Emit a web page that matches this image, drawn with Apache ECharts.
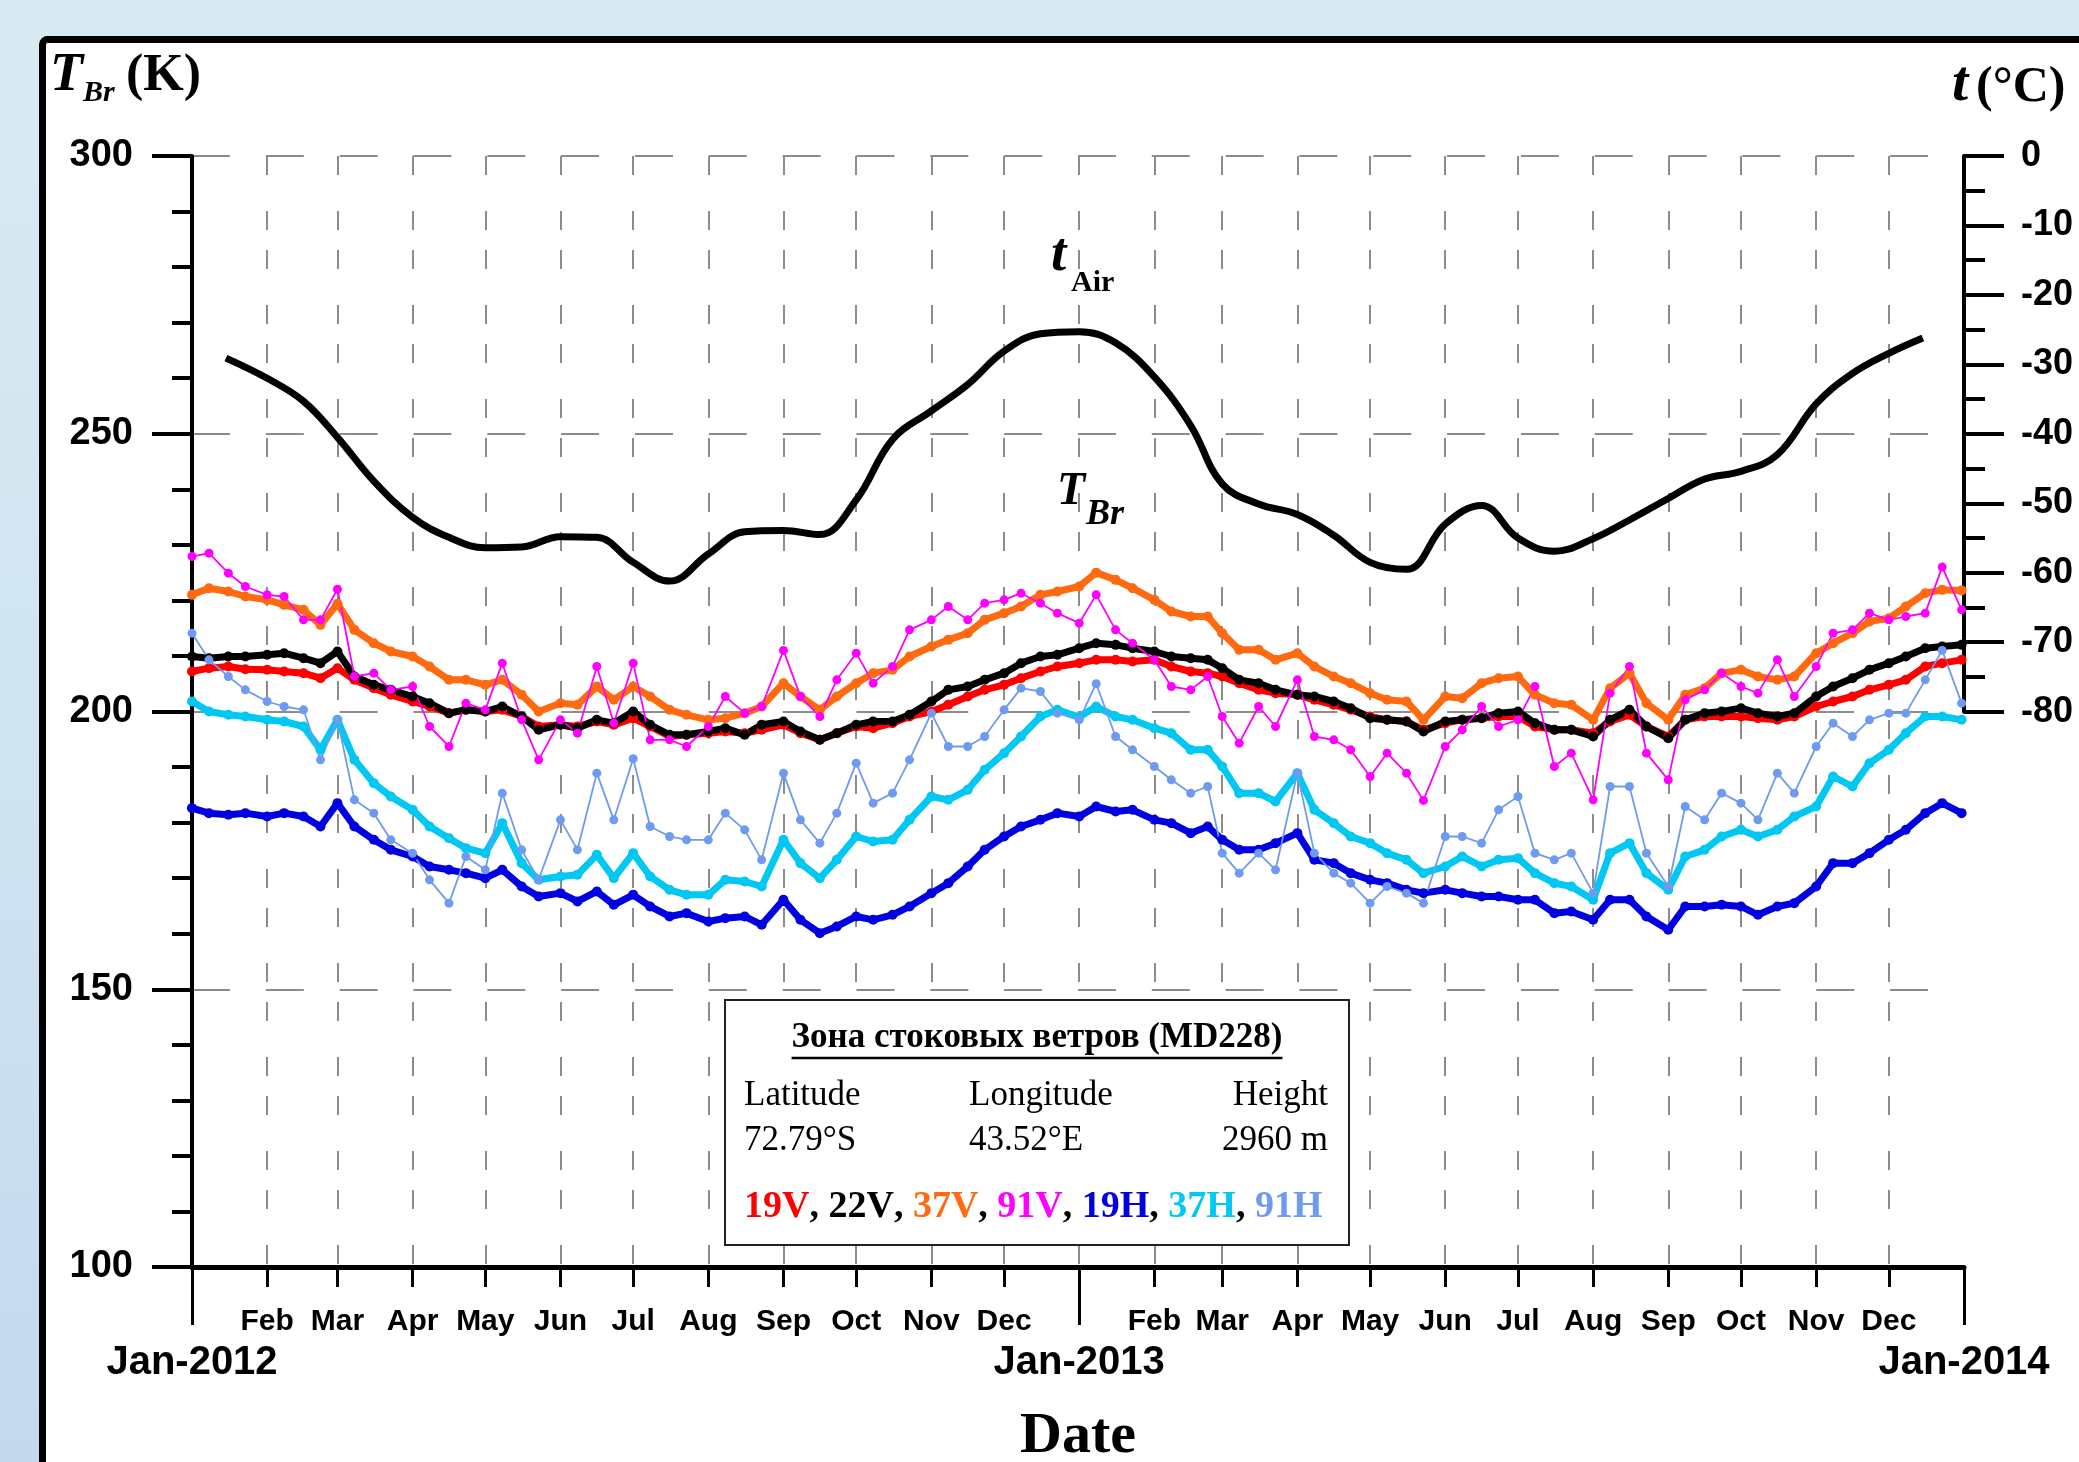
<!DOCTYPE html>
<html>
<head>
<meta charset="utf-8">
<script src="https://cdn.jsdelivr.net/npm/echarts@6/dist/echarts.min.js"></script>
<style>
html, body { margin: 0; padding: 0; width: 2079px; height: 1462px; overflow: hidden;
  background: linear-gradient(180deg, #d9ebf2 0%, #d1e5f1 45%, #c4d9ee 100%); }
#chart { width: 2079px; height: 1462px; }
</style>
</head>
<body>
<div id="chart"></div>
<script>
// ---------------- data ----------------
const monthLabels = ['Jan', 'Feb', 'Mar', 'Apr', 'May', 'Jun', 'Jul', 'Aug', 'Sep', 'Oct', 'Nov', 'Dec'];
const yearLabels = ['Jan-2012', 'Jan-2013', 'Jan-2014'];
const years = [2012, 2013];
const sampleDays = [1, 8, 16, 23];          // days of every month at which the curves were read
const lastSampleDate = '2013-12-31';

const seriesNames = ['19V', '22V', '37V', '91V', '19H', '37H', '91H'];
const seriesColors = ['#ff0000', '#000000', '#ff6a10', '#ff00ff', '#0000e0', '#00c8f2', '#6e9bef'];

const tb19V = [
  207.2, 207.8, 208.1, 207.6, 207.5, 207.2, 206.9, 206.0, 207.8, 205.7, 204.2, 203.0, 201.8, 200.9, 199.7, 200.3, 200.0, 200.3, 199.1, 197.3, 197.6, 197.3, 198.2, 197.6, 198.8,
  197.3, 195.5, 195.8, 196.1, 196.4, 196.1, 196.7, 197.6, 196.1, 194.9, 196.1, 197.3, 197.0, 197.9, 199.1, 200.0, 201.2, 202.7, 203.9, 204.8, 206.0, 207.2, 208.1, 208.7,
  209.3, 209.3, 209.0, 209.3, 208.1, 207.2, 206.9, 206.3, 205.1, 203.9, 203.3, 203.0, 202.1, 201.2, 200.3, 199.1, 198.5, 198.2, 196.7, 197.9, 198.5, 198.8, 199.1, 199.1,
  197.3, 196.7, 196.7, 196.1, 198.2, 199.4, 197.3, 195.5, 198.5, 199.1, 199.1, 199.1, 198.8, 198.5, 199.1, 200.9, 201.8, 202.7, 203.9, 204.8, 205.7, 208.1, 208.7, 209.3
];
const tb22V = [
  209.9, 209.6, 209.9, 209.9, 210.2, 210.5, 209.6, 208.7, 210.8, 206.3, 204.8, 203.9, 202.7, 201.5, 199.7, 200.3, 200.0, 200.9, 199.1, 196.7, 197.6, 197.0, 198.5, 197.9, 200.0,
  197.6, 195.8, 195.8, 196.4, 197.0, 195.8, 197.6, 198.2, 196.4, 194.9, 196.1, 197.6, 198.2, 198.2, 199.4, 201.8, 203.9, 204.5, 205.7, 206.9, 208.7, 209.9, 210.2, 211.4,
  212.3, 212.0, 211.4, 210.8, 209.9, 209.6, 209.3, 207.8, 205.7, 205.1, 203.9, 203.0, 202.7, 201.8, 200.6, 198.8, 198.5, 198.2, 196.4, 198.2, 198.5, 198.8, 199.7, 200.0,
  197.9, 196.7, 196.7, 195.5, 198.5, 200.3, 197.3, 195.2, 198.5, 199.7, 200.0, 200.6, 199.7, 199.1, 199.7, 202.7, 204.5, 206.0, 207.5, 208.7, 209.9, 211.4, 211.7, 212.0
];
const tb37V = [
  221.0, 222.2, 221.6, 220.7, 220.1, 219.2, 218.3, 215.6, 219.4, 214.7, 212.3, 210.8, 209.9, 208.1, 205.7, 205.7, 204.8, 205.7, 203.0, 200.0, 201.5, 201.2, 204.5, 202.1, 204.5,
  202.7, 200.3, 199.4, 198.5, 198.8, 199.7, 200.9, 205.1, 202.7, 200.3, 202.7, 205.1, 206.9, 207.5, 209.9, 211.7, 212.9, 214.1, 216.5, 217.7, 218.9, 221.0, 221.6, 222.5,
  225.0, 223.7, 222.2, 220.1, 218.0, 217.1, 217.1, 214.1, 211.1, 211.1, 209.3, 210.5, 208.1, 206.3, 205.1, 203.3, 202.1, 201.8, 198.5, 202.7, 202.4, 205.1, 206.0, 206.3,
  203.0, 201.5, 201.2, 198.5, 204.2, 206.9, 201.5, 198.5, 203.0, 204.2, 206.9, 207.5, 206.3, 205.7, 206.3, 210.5, 212.3, 214.1, 216.2, 216.8, 218.9, 221.3, 221.9, 221.8
];
const tb91V = [
  227.9, 228.5, 224.9, 222.5, 221.0, 220.7, 216.5, 216.5, 222.0, 206.3, 206.9, 203.9, 204.5, 197.3, 193.7, 201.5, 200.3, 208.7, 198.5, 191.3, 198.5, 196.1, 208.1, 197.9, 208.7,
  194.9, 194.9, 193.7, 197.3, 202.7, 199.7, 200.9, 211.0, 202.7, 199.1, 205.7, 210.5, 205.1, 208.1, 214.7, 216.5, 218.9, 216.5, 219.5, 220.1, 221.3, 219.5, 217.7, 215.9,
  221.0, 214.7, 212.3, 209.3, 204.5, 203.9, 206.3, 199.1, 194.3, 200.9, 197.3, 205.7, 195.5, 194.9, 193.1, 188.3, 192.5, 188.9, 184.0, 193.7, 196.7, 200.9, 197.3, 198.5,
  204.5, 190.1, 192.5, 184.1, 203.3, 208.1, 192.5, 187.7, 202.1, 203.9, 206.9, 204.5, 203.3, 209.3, 202.7, 208.1, 214.1, 214.7, 217.7, 216.5, 217.1, 217.7, 226.0, 218.3
];
const tb19H = [
  182.6, 181.7, 181.4, 181.7, 181.1, 181.7, 181.1, 179.3, 183.5, 179.3, 176.9, 175.1, 173.9, 172.1, 171.5, 170.9, 170.0, 171.5, 168.5, 166.7, 167.3, 165.8, 167.6, 165.2, 167.0,
  164.9, 163.1, 163.7, 162.2, 162.8, 163.1, 161.6, 166.1, 162.5, 160.1, 161.3, 163.1, 162.5, 163.4, 164.9, 167.3, 169.1, 172.1, 175.1, 177.5, 179.3, 180.5, 181.7, 181.1,
  182.9, 182.0, 182.3, 180.5, 179.9, 178.1, 179.3, 176.9, 175.1, 175.1, 176.3, 178.1, 173.3, 172.7, 170.9, 169.7, 169.1, 167.9, 167.3, 167.9, 167.3, 166.7, 166.7, 166.1,
  166.1, 163.7, 164.0, 162.5, 166.1, 166.1, 163.1, 160.7, 164.9, 164.9, 165.2, 164.9, 163.4, 164.9, 165.5, 168.5, 172.7, 172.7, 174.5, 176.9, 178.7, 181.7, 183.5, 181.7
];
const tb37H = [
  201.8, 200.0, 199.4, 199.1, 198.5, 198.2, 197.3, 193.1, 198.5, 191.3, 187.1, 184.7, 182.3, 179.3, 177.2, 175.4, 174.5, 179.9, 172.7, 169.7, 170.3, 170.6, 174.2, 170.0, 174.5,
  170.3, 167.9, 167.0, 167.0, 169.7, 169.4, 168.5, 176.9, 172.7, 170.0, 173.3, 177.5, 176.6, 176.9, 180.5, 184.7, 184.1, 185.9, 189.5, 192.5, 195.5, 199.1, 200.3, 199.0,
  200.9, 199.1, 198.5, 197.0, 196.1, 193.1, 193.1, 190.1, 185.3, 185.3, 183.8, 188.9, 182.3, 179.9, 177.5, 176.3, 174.5, 173.3, 170.9, 172.1, 173.9, 172.1, 173.3, 173.6,
  170.9, 169.1, 168.5, 166.1, 174.5, 176.3, 170.9, 167.9, 173.9, 175.1, 177.5, 178.7, 177.5, 178.7, 181.1, 182.9, 188.3, 186.5, 190.7, 193.1, 196.1, 199.1, 199.1, 198.5
];
const tb91H = [
  214.1, 209.3, 206.3, 203.9, 201.8, 200.9, 200.3, 191.3, 198.5, 184.1, 181.7, 176.9, 174.5, 169.7, 165.5, 173.9, 171.5, 185.3, 175.1, 169.7, 180.5, 175.1, 188.9, 180.5, 191.5,
  179.3, 177.5, 176.9, 176.9, 181.7, 178.7, 173.3, 188.9, 180.5, 176.3, 181.7, 190.7, 183.5, 185.3, 191.3, 199.7, 193.7, 193.7, 195.5, 200.3, 204.2, 203.6, 199.7, 198.5,
  205.0, 195.5, 193.1, 190.1, 187.7, 185.3, 186.5, 174.5, 170.9, 174.5, 171.5, 188.9, 174.5, 170.9, 169.1, 165.5, 168.5, 167.3, 165.5, 177.5, 177.5, 176.3, 182.3, 184.7,
  174.5, 173.3, 174.5, 167.3, 186.5, 186.5, 174.5, 168.5, 182.9, 180.5, 185.3, 183.5, 180.5, 188.9, 185.3, 193.7, 197.9, 195.5, 198.5, 199.7, 199.7, 205.7, 211.0, 201.5
];

// air temperature (deg C, right axis), read twice a month
const airDates = [
  '2012-01-15', '2012-02-01', '2012-02-16', '2012-03-01', '2012-03-16', '2012-04-01', '2012-04-16', '2012-05-01',
  '2012-05-16', '2012-06-01', '2012-06-16', '2012-07-01', '2012-07-16', '2012-08-01', '2012-08-16', '2012-09-01',
  '2012-09-16', '2012-10-01', '2012-10-16', '2012-11-01', '2012-11-16', '2012-12-01', '2012-12-16', '2013-01-01',
  '2013-01-16', '2013-02-01', '2013-02-16', '2013-03-01', '2013-03-16', '2013-04-01', '2013-04-16', '2013-05-01',
  '2013-05-16', '2013-06-01', '2013-06-16', '2013-07-01', '2013-07-16', '2013-08-01', '2013-08-16', '2013-09-01',
  '2013-09-16', '2013-10-01', '2013-10-16', '2013-11-01', '2013-11-16', '2013-12-01', '2013-12-15'
];
const airTemps = [
  -29.1, -32.0, -35.3, -40.5, -46.8, -52.0, -54.9, -56.4,
  -56.3, -54.8, -54.9, -58.5, -61.2, -57.3, -54.1, -53.9,
  -54.5, -49.5, -40.8, -36.7, -32.9, -28.1, -25.6, -25.3,
  -26.9, -31.8, -38.8, -47.2, -50.1, -51.6, -54.6, -58.5,
  -59.5, -53.0, -50.3, -55.0, -56.9, -55.1, -52.4, -49.3,
  -46.5, -45.4, -43.0, -35.7, -31.3, -28.4, -26.2
];

const boxTitle = 'Зона стоковых ветров (MD228)';
const boxHeaders = ['Latitude', 'Longitude', 'Height'];
const boxValues = ['72.79°S', '43.52°E', '2960 m'];

// ---------------- build ----------------
const pad = n => String(n).padStart(2, '0');
const toTime = s => { const p = s.split('-').map(Number); return new Date(p[0], p[1] - 1, p[2]).getTime(); };
const sampleDates = [];
years.forEach(y => {
  for (let mo = 1; mo <= 12; mo++) sampleDays.forEach(d => sampleDates.push(`${y}-${pad(mo)}-${pad(d)}`));
});
sampleDates.push(lastSampleDate);

const monthTicks = [], monthLabelTicks = [];
years.forEach(y => {
  for (let mo = 0; mo < 12; mo++) {
    if (y === years[0] && mo === 0) continue;
    const t = new Date(y, mo, 1).getTime();
    monthTicks.push(t);
    if (mo !== 0) monthLabelTicks.push(t);
  }
});
const yearTicks = [new Date(2012, 0, 1).getTime(), new Date(2013, 0, 1).getTime(), new Date(2014, 0, 1).getTime()];
const xMin = yearTicks[0], xMax = yearTicks[2];

const SANS = '"Liberation Sans", Arial, sans-serif';
const SERIF = '"Liberation Serif", "Times New Roman", serif';
const GRID = { left: 192, right: 115, top: 156, bottom: 195 };
const gridLineColor = '#8c8c8c';

const tbValues = [tb19V, tb22V, tb37V, tb91V, tb19H, tb37H, tb91H];
const noisy = { '91V': true, '91H': true };
const series = tbValues.map((vals, k) => {
  const nm = seriesNames[k];
  const c = seriesColors[k];
  return {
    name: nm, type: 'line', xAxisIndex: 0, yAxisIndex: 0,
    data: sampleDates.map((d, i) => [toTime(d), vals[i]]),
    symbol: 'circle', symbolSize: noisy[nm] ? 9 : 10, showSymbol: true, showAllSymbol: true,
    lineStyle: { color: c, width: noisy[nm] ? 1.8 : 7 },
    itemStyle: { color: c, borderWidth: 0 },
    silent: true, animation: false
  };
});
series.push({
  name: 'tAir', type: 'line', xAxisIndex: 2, yAxisIndex: 1,
  data: airDates.map((d, i) => [toTime(d), airTemps[i]]),
  smooth: 0.4, symbol: 'none', showSymbol: false,
  lineStyle: { color: '#000', width: 7 }, silent: true, animation: false, z: 5
});

// text helpers
function txt(text, x, y, font, align, z) {
  return { type: 'text', x: x, y: y, z: z || 20, silent: true,
    style: { text: text, font: font, fill: '#000', align: align || 'left', verticalAlign: 'middle',
             textAlign: align || 'left', textVerticalAlign: 'middle' } };
}
const mctx = document.createElement('canvas').getContext('2d');
mctx.font = 'bold 35px ' + SERIF;
const titleW = mctx.measureText(boxTitle).width;
const boxCx = 1037;

const rich = { k: { fill: '#000', font: 'bold 38px ' + SERIF } };
let legendText = '';
seriesNames.forEach((n, i) => {
  rich['s' + i] = { fill: seriesColors[i], font: 'bold 38px ' + SERIF };
  legendText += '{s' + i + '|' + n + '}' + (i < seriesNames.length - 1 ? '{k|, }' : '');
});

const graphics = [
  { type: 'rect', z: -10, silent: true, shape: { x: 42.5, y: 39.5, width: 2100, height: 1500, r: 5 },
    style: { fill: '#ffffff', stroke: '#000', lineWidth: 7 } },
  // left axis title
  txt('T', 50, 76, 'italic bold 54px ' + SERIF),
  txt('Br', 83, 93, 'italic bold 30px ' + SERIF),
  txt('(K)', 126, 77, 'bold 52px ' + SERIF),
  // right axis title
  txt('t', 1952, 85, 'italic bold 58px ' + SERIF),
  txt('(°C)', 1976, 88, 'bold 50px ' + SERIF),
  // curve labels
  txt('t', 1051, 256, 'italic bold 55px ' + SERIF),
  txt('Air', 1071, 283, 'bold 30px ' + SERIF),
  txt('T', 1057, 492, 'italic bold 46px ' + SERIF),
  txt('Br', 1086, 515, 'italic bold 36px ' + SERIF),
  // x axis name
  txt('Date', 1078, 1437, 'bold 58px ' + SERIF, 'center'),
  // info box
  { type: 'rect', z: 15, silent: true, shape: { x: 725, y: 1000, width: 624, height: 245 },
    style: { fill: '#ffffff', stroke: '#222', lineWidth: 2 } },
  txt(boxTitle, boxCx, 1038, 'bold 35px ' + SERIF, 'center'),
  { type: 'line', z: 20, silent: true,
    shape: { x1: boxCx - titleW / 2, y1: 1058, x2: boxCx + titleW / 2, y2: 1058 },
    style: { stroke: '#000', lineWidth: 2.5 } },
  txt(boxHeaders[0], 744, 1096, '35px ' + SERIF, 'left'),
  txt(boxHeaders[1], 969, 1096, '35px ' + SERIF, 'left'),
  txt(boxHeaders[2], 1328, 1096, '35px ' + SERIF, 'right'),
  txt(boxValues[0], 744, 1141, '35px ' + SERIF, 'left'),
  txt(boxValues[1], 969, 1141, '35px ' + SERIF, 'left'),
  txt(boxValues[2], 1328, 1141, '35px ' + SERIF, 'right'),
  { type: 'text', x: 744, y: 1207, z: 20, silent: true,
    style: { text: legendText, rich: rich, font: 'bold 38px ' + SERIF, fill: '#000',
             align: 'left', verticalAlign: 'middle', textAlign: 'left', textVerticalAlign: 'middle' } }
];

const boldLabel = (size) => ({ color: '#000', fontFamily: SANS, fontWeight: 'bold', fontSize: size });

const option = {
  animation: false,
  backgroundColor: 'transparent',
  grid: [
    Object.assign({ containLabel: false, outerBoundsMode: 'none' }, GRID),
    { left: GRID.left, right: GRID.right, top: GRID.top, height: 555.7, containLabel: false, outerBoundsMode: 'none' }
  ],
  xAxis: [
    { // monthly ticks, labels and vertical grid
      type: 'value', gridIndex: 0, position: 'bottom', min: xMin, max: xMax, scale: true,
      axisLine: { show: true, onZero: false, lineStyle: { color: '#000', width: 5 } },
      axisTick: { show: true, inside: false, length: 20, customValues: monthTicks, lineStyle: { color: '#000', width: 3 } },
      axisLabel: Object.assign(boldLabel(30), { margin: 40, customValues: monthLabelTicks, hideOverlap: false,
        formatter: v => monthLabels[new Date(v).getMonth()] }),
      splitLine: { show: true, lineStyle: { color: gridLineColor, width: 2, type: [19, 36, 19, 20] } },
      minorTick: { show: false }, minorSplitLine: { show: false }
    },
    { // year ticks and labels
      type: 'value', gridIndex: 0, position: 'bottom', min: xMin, max: xMax, scale: true,
      axisLine: { show: false, onZero: false },
      axisTick: { show: true, inside: false, length: 58, customValues: yearTicks, lineStyle: { color: '#000', width: 3 } },
      axisLabel: Object.assign(boldLabel(40), { margin: 76, customValues: yearTicks, hideOverlap: false,
        showMinLabel: true, showMaxLabel: true,
        formatter: v => yearLabels[yearTicks.indexOf(v)] || '' }),
      splitLine: { show: false }
    },
    { type: 'value', gridIndex: 1, min: xMin, max: xMax, scale: true, show: false }
  ],
  yAxis: [
    {
      type: 'value', gridIndex: 0, position: 'left', min: 100, max: 300, interval: 50,
      axisLine: { show: true, onZero: false, lineStyle: { color: '#000', width: 4 } },
      axisTick: { show: true, inside: false, length: 40, lineStyle: { color: '#000', width: 4 } },
      minorTick: { show: true, splitNumber: 5, length: 20, lineStyle: { color: '#000', width: 4 } },
      axisLabel: Object.assign(boldLabel(38), { margin: 59, showMinLabel: true, showMaxLabel: true, hideOverlap: false }),
      splitLine: { show: true, lineStyle: { color: gridLineColor, width: 2, type: [38, 35.83] } },
      minorSplitLine: { show: false }
    },
    {
      type: 'value', gridIndex: 1, position: 'right', min: -80, max: 0, interval: 10,
      axisLine: { show: true, onZero: false, lineStyle: { color: '#000', width: 4 } },
      axisTick: { show: true, inside: false, length: 40, lineStyle: { color: '#000', width: 4 } },
      minorTick: { show: true, splitNumber: 2, length: 21, lineStyle: { color: '#000', width: 4 } },
      axisLabel: Object.assign(boldLabel(36), { margin: 57, showMinLabel: true, showMaxLabel: true, hideOverlap: false }),
      splitLine: { show: false }, minorSplitLine: { show: false }
    }
  ],
  graphic: graphics,
  series: series
};

const chart = echarts.init(document.getElementById('chart'), null, { renderer: 'canvas' });
chart.setOption(option);
</script>
</body>
</html>
